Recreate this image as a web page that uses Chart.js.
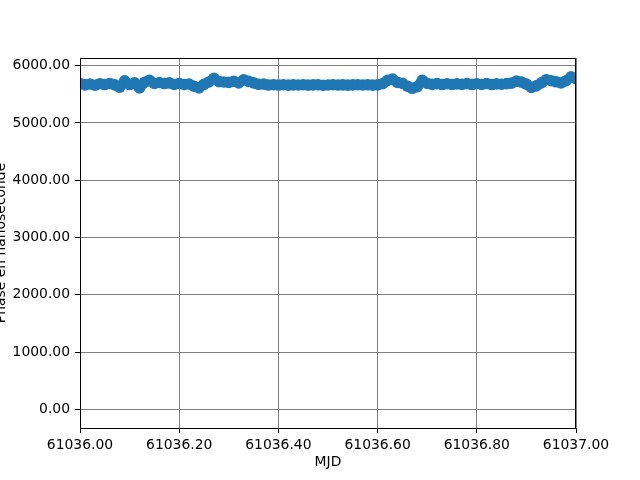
<!DOCTYPE html>
<html>
<head>
<meta charset="utf-8">
<script src="https://cdn.jsdelivr.net/npm/chart.js@4/dist/chart.umd.min.js"></script>
<style>
html,body{margin:0;padding:0;background:#fff;}
#c{display:block;}
</style>
</head>
<body>
<canvas id="c" width="640" height="480"></canvas>
<script>
const mjd = [
61036.00,61036.01,61036.02,61036.03,61036.04,61036.05,61036.06,61036.07,61036.08,61036.09,
61036.10,61036.11,61036.12,61036.13,61036.14,61036.15,61036.16,61036.17,61036.18,61036.19,
61036.20,61036.21,61036.22,61036.23,61036.24,61036.25,61036.26,61036.27,61036.28,61036.29,
61036.30,61036.31,61036.32,61036.33,61036.34,61036.35,61036.36,61036.37,61036.38,61036.39,
61036.40,61036.41,61036.42,61036.43,61036.44,61036.45,61036.46,61036.47,61036.48,61036.49,
61036.50,61036.51,61036.52,61036.53,61036.54,61036.55,61036.56,61036.57,61036.58,61036.59,
61036.60,61036.61,61036.62,61036.63,61036.64,61036.65,61036.66,61036.67,61036.68,61036.69,
61036.70,61036.71,61036.72,61036.73,61036.74,61036.75,61036.76,61036.77,61036.78,61036.79,
61036.80,61036.81,61036.82,61036.83,61036.84,61036.85,61036.86,61036.87,61036.88,61036.89,
61036.90,61036.91,61036.92,61036.93,61036.94,61036.95,61036.96,61036.97,61036.98,61036.99,
61037.00
];
const phaseNs = [
5690,5664,5680,5658,5685,5670,5690,5665,5625,5735,
5670,5700,5610,5710,5745,5690,5705,5688,5700,5672,
5690,5672,5680,5642,5612,5675,5716,5780,5722,5715,
5708,5728,5700,5755,5725,5700,5675,5680,5662,5668,
5662,5667,5660,5665,5663,5668,5661,5664,5666,5659,
5663,5667,5662,5665,5660,5664,5668,5663,5666,5661,
5664,5685,5745,5765,5708,5692,5642,5605,5635,5745,
5692,5674,5686,5670,5684,5672,5682,5674,5686,5670,
5684,5672,5688,5670,5682,5676,5686,5695,5730,5712,
5678,5620,5648,5700,5755,5738,5718,5700,5738,5805,
5775
];
const xTicks = [61036.0, 61036.2, 61036.4, 61036.6, 61036.8, 61037.0];
const yTicks = [0, 1000, 2000, 3000, 4000, 5000, 6000];
const xLabel = 'MJD';
const yLabel = 'Phase en nanoseconde';

const points = mjd.map((x, i) => ({x: x, y: phaseNs[i]}));
const FONT = {family: 'DejaVu Sans', size: 13.9};

const framePlugin = {
  id: 'frame',
  afterDraw(chart) {
    const a = chart.chartArea, ctx = chart.ctx;
    ctx.save();
    ctx.strokeStyle = '#000';
    ctx.lineWidth = 1;
    ctx.strokeRect(Math.round(a.left) + 0.5, Math.round(a.top) + 0.5,
                   Math.round(a.right) - Math.round(a.left) - 1, Math.round(a.bottom) - Math.round(a.top));
    ctx.restore();
  }
};

new Chart(document.getElementById('c'), {
  type: 'scatter',
  data: {
    datasets: [{
      data: points,
      backgroundColor: '#1f77b4',
      borderColor: '#1f77b4',
      borderWidth: 10,
      borderCapStyle: 'round',
      borderJoinStyle: 'round',
      pointBorderWidth: 0,
      pointRadius: 5.8,
      pointHoverRadius: 5.8,
      showLine: true,
      tension: 0,
      clip: 0
    }]
  },
  options: {
    responsive: false,
    animation: false,
    events: [],
    layout: {padding: {left: 0, right: 64, top: 58, bottom: 0}},
    plugins: {legend: {display: false}, tooltip: {enabled: false}},
    scales: {
      x: {
        type: 'linear',
        min: 61036.0,
        max: 61037.0,
        afterBuildTicks(s) { s.ticks = xTicks.map(v => ({value: v})); },
        afterFit(s) { s.height = 52; },
        ticks: {
          font: FONT, color: '#000', padding: 4, maxRotation: 0, autoSkip: false,
          callback: v => Number(v).toFixed(2)
        },
        grid: {color: '#808080', lineWidth: 1, tickColor: '#000', tickLength: 5},
        border: {color: '#000', width: 1},
        title: {display: true, text: xLabel, font: FONT, color: '#000', padding: {top: 0, bottom: 9.7}}
      },
      y: {
        type: 'linear',
        min: -327,
        max: 6134,
        afterBuildTicks(s) { s.ticks = yTicks.map(v => ({value: v})); },
        afterFit(s) { s.width = 80; },
        ticks: {
          font: FONT, color: '#000', padding: 5,
          callback: v => Number(v).toFixed(2)
        },
        grid: {color: '#808080', lineWidth: 1, tickColor: '#000', tickLength: 5},
        border: {color: '#000', width: 1},
        title: {display: true, text: yLabel, font: FONT, color: '#000', padding: {top: -7.3, bottom: 0}}
      }
    }
  },
  plugins: [framePlugin]
});
</script>
</body>
</html>
